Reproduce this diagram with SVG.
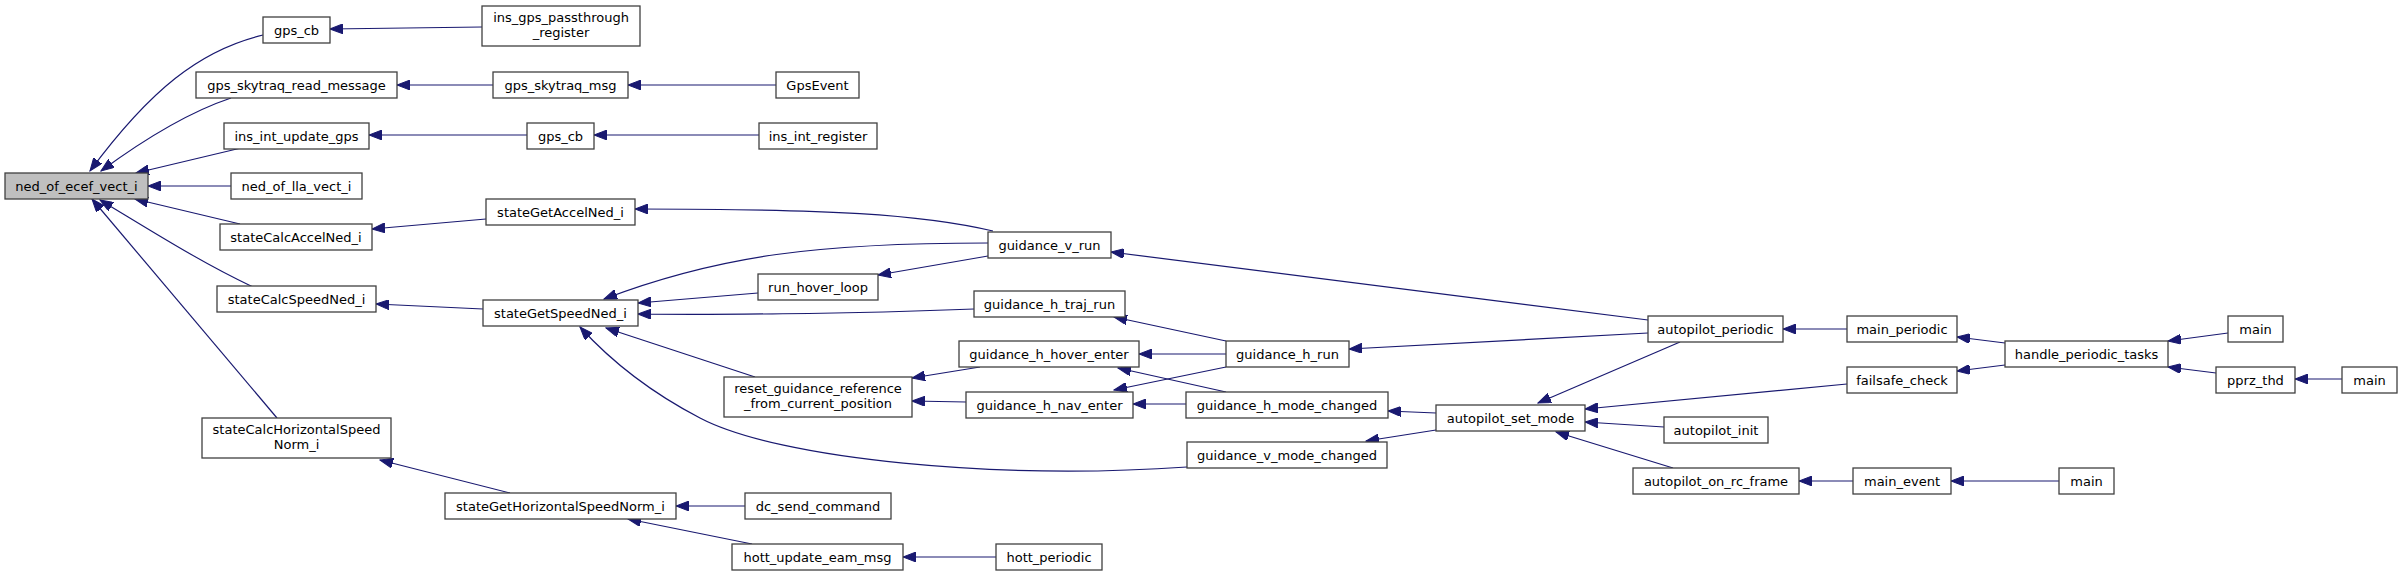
<svg xmlns="http://www.w3.org/2000/svg" width="2403" height="575" viewBox="0 0 2403 575">
<style>
.n rect{fill:#ffffff;stroke:#404040;stroke-width:1.3}
.n.cur rect{fill:#bfbfbf}
.n text{font-family:"DejaVu Sans",sans-serif;font-size:13px;fill:#000;text-anchor:middle}
.e path{fill:none;stroke:#191970;stroke-width:1.2;marker-end:url(#ah)}
</style>
<defs>
<marker id="ah" markerUnits="userSpaceOnUse" markerWidth="14" markerHeight="10" refX="13" refY="5" orient="auto" viewBox="0 0 14 10">
<path d="M0,0 L13,5 L0,10 z" fill="#191970" stroke="#191970" stroke-width="1"/>
</marker>
</defs>
<rect width="2403" height="575" fill="#fff"/>
<g id="edges" class="e">
<path d="M482,27 L330,29"/>
<path d="M263,35 C200,50 150,90 90,171"/>
<path d="M493,85 L397,85"/>
<path d="M776,85 L628,85"/>
<path d="M231,98 C195,110 150,135 101,171"/>
<path d="M759,135 L594,135"/>
<path d="M527,135 L369,135"/>
<path d="M241,148 L136,173"/>
<path d="M231,186 L148,186"/>
<path d="M240,224 L135,199"/>
<path d="M486,219 L372,229"/>
<path d="M253,287 C200,262 150,230 100,200"/>
<path d="M277,418 L92,199"/>
<path d="M483,309 L376,304"/>
<path d="M510,493 L380,460"/>
<path d="M993,231 C920,214 830,209 635,209"/>
<path d="M988,243 C820,243 720,255 604,299"/>
<path d="M758,293 L638,303"/>
<path d="M988,256 L878,275"/>
<path d="M974,309 C850,314 700,315 638,314"/>
<path d="M755,377 L606,328"/>
<path d="M1187,467 C1000,480 780,460 700,418 C650,392 610,360 580,327"/>
<path d="M980,367 L912,378"/>
<path d="M966,402 L912,401"/>
<path d="M1226,341 L1114,317"/>
<path d="M1226,354 L1139,354"/>
<path d="M1226,367 L1114,390"/>
<path d="M1226,392 L1118,368"/>
<path d="M1186,404 L1133,404"/>
<path d="M1648,320 L1111,252"/>
<path d="M1648,333 L1349,349"/>
<path d="M1680,342 L1538,403"/>
<path d="M1436,413 L1388,411"/>
<path d="M1436,430 L1366,441"/>
<path d="M1847,384 L1585,409"/>
<path d="M1664,427 L1585,422"/>
<path d="M1673,468 L1556,432"/>
<path d="M1847,329 L1783,329"/>
<path d="M1853,481 L1799,481"/>
<path d="M2059,481 L1951,481"/>
<path d="M2005,343 L1957,337"/>
<path d="M2005,365 L1957,371"/>
<path d="M2228,333 L2168,341"/>
<path d="M2216,373 L2168,367"/>
<path d="M2342,379 L2295,379"/>
<path d="M745,506 L676,506"/>
<path d="M752,544 L628,519"/>
<path d="M996,557 L903,557"/>
</g>
<g id="ned_of_ecef_vect_i" class="n cur"><rect x="5" y="173" width="143" height="26"/><text x="76.5" y="191">ned_of_ecef_vect_i</text></g>
<g id="gps_cb_1" class="n"><rect x="263" y="17" width="67" height="26"/><text x="296.5" y="35">gps_cb</text></g>
<g id="ins_gps_passthrough_register" class="n"><rect x="482" y="6" width="158" height="40"/><text x="561" y="22">ins_gps_passthrough</text><text x="561" y="37">_register</text></g>
<g id="gps_skytraq_read_message" class="n"><rect x="196" y="72" width="201" height="26"/><text x="296.5" y="90">gps_skytraq_read_message</text></g>
<g id="gps_skytraq_msg" class="n"><rect x="493" y="72" width="135" height="26"/><text x="560.5" y="90">gps_skytraq_msg</text></g>
<g id="GpsEvent" class="n"><rect x="776" y="72" width="83" height="26"/><text x="817.5" y="90">GpsEvent</text></g>
<g id="ins_int_update_gps" class="n"><rect x="224" y="123" width="145" height="26"/><text x="296.5" y="141">ins_int_update_gps</text></g>
<g id="gps_cb_2" class="n"><rect x="527" y="123" width="67" height="26"/><text x="560.5" y="141">gps_cb</text></g>
<g id="ins_int_register" class="n"><rect x="759" y="123" width="118" height="26"/><text x="818" y="141">ins_int_register</text></g>
<g id="ned_of_lla_vect_i" class="n"><rect x="231" y="173" width="131" height="26"/><text x="296.5" y="191">ned_of_lla_vect_i</text></g>
<g id="stateCalcAccelNed_i" class="n"><rect x="220" y="224" width="152" height="26"/><text x="296" y="242">stateCalcAccelNed_i</text></g>
<g id="stateGetAccelNed_i" class="n"><rect x="486" y="199" width="149" height="26"/><text x="560.5" y="217">stateGetAccelNed_i</text></g>
<g id="stateCalcSpeedNed_i" class="n"><rect x="217" y="286" width="159" height="26"/><text x="296.5" y="304">stateCalcSpeedNed_i</text></g>
<g id="stateGetSpeedNed_i" class="n"><rect x="483" y="300" width="155" height="26"/><text x="560.5" y="318">stateGetSpeedNed_i</text></g>
<g id="stateCalcHorizontalSpeedNorm_i" class="n"><rect x="202" y="418" width="189" height="40"/><text x="296.5" y="434">stateCalcHorizontalSpeed</text><text x="296.5" y="449">Norm_i</text></g>
<g id="stateGetHorizontalSpeedNorm_i" class="n"><rect x="445" y="493" width="231" height="26"/><text x="560.5" y="511">stateGetHorizontalSpeedNorm_i</text></g>
<g id="guidance_v_run" class="n"><rect x="988" y="232" width="123" height="26"/><text x="1049.5" y="250">guidance_v_run</text></g>
<g id="run_hover_loop" class="n"><rect x="758" y="274" width="120" height="26"/><text x="818" y="292">run_hover_loop</text></g>
<g id="guidance_h_traj_run" class="n"><rect x="974" y="291" width="151" height="26"/><text x="1049.5" y="309">guidance_h_traj_run</text></g>
<g id="guidance_h_hover_enter" class="n"><rect x="959" y="341" width="180" height="26"/><text x="1049" y="359">guidance_h_hover_enter</text></g>
<g id="reset_guidance_reference_from_current_position" class="n"><rect x="724" y="377" width="188" height="40"/><text x="818" y="393">reset_guidance_reference</text><text x="818" y="408">_from_current_position</text></g>
<g id="guidance_h_nav_enter" class="n"><rect x="966" y="392" width="167" height="26"/><text x="1049.5" y="410">guidance_h_nav_enter</text></g>
<g id="dc_send_command" class="n"><rect x="745" y="493" width="146" height="26"/><text x="818" y="511">dc_send_command</text></g>
<g id="hott_update_eam_msg" class="n"><rect x="732" y="544" width="171" height="26"/><text x="817.5" y="562">hott_update_eam_msg</text></g>
<g id="hott_periodic" class="n"><rect x="996" y="544" width="106" height="26"/><text x="1049" y="562">hott_periodic</text></g>
<g id="guidance_h_run" class="n"><rect x="1226" y="341" width="123" height="26"/><text x="1287.5" y="359">guidance_h_run</text></g>
<g id="guidance_h_mode_changed" class="n"><rect x="1186" y="392" width="202" height="26"/><text x="1287" y="410">guidance_h_mode_changed</text></g>
<g id="guidance_v_mode_changed" class="n"><rect x="1187" y="442" width="200" height="26"/><text x="1287" y="460">guidance_v_mode_changed</text></g>
<g id="autopilot_periodic" class="n"><rect x="1648" y="316" width="135" height="26"/><text x="1715.5" y="334">autopilot_periodic</text></g>
<g id="autopilot_set_mode" class="n"><rect x="1436" y="405" width="149" height="26"/><text x="1510.5" y="423">autopilot_set_mode</text></g>
<g id="autopilot_init" class="n"><rect x="1664" y="417" width="104" height="26"/><text x="1716" y="435">autopilot_init</text></g>
<g id="autopilot_on_rc_frame" class="n"><rect x="1633" y="468" width="166" height="26"/><text x="1716" y="486">autopilot_on_rc_frame</text></g>
<g id="main_periodic" class="n"><rect x="1847" y="316" width="110" height="26"/><text x="1902" y="334">main_periodic</text></g>
<g id="failsafe_check" class="n"><rect x="1847" y="367" width="110" height="26"/><text x="1902" y="385">failsafe_check</text></g>
<g id="handle_periodic_tasks" class="n"><rect x="2005" y="341" width="163" height="26"/><text x="2086.5" y="359">handle_periodic_tasks</text></g>
<g id="main_1" class="n"><rect x="2228" y="316" width="55" height="26"/><text x="2255.5" y="334">main</text></g>
<g id="pprz_thd" class="n"><rect x="2216" y="367" width="79" height="26"/><text x="2255.5" y="385">pprz_thd</text></g>
<g id="main_2" class="n"><rect x="2342" y="367" width="55" height="26"/><text x="2369.5" y="385">main</text></g>
<g id="main_event" class="n"><rect x="1853" y="468" width="98" height="26"/><text x="1902" y="486">main_event</text></g>
<g id="main_3" class="n"><rect x="2059" y="468" width="55" height="26"/><text x="2086.5" y="486">main</text></g>
</svg>
